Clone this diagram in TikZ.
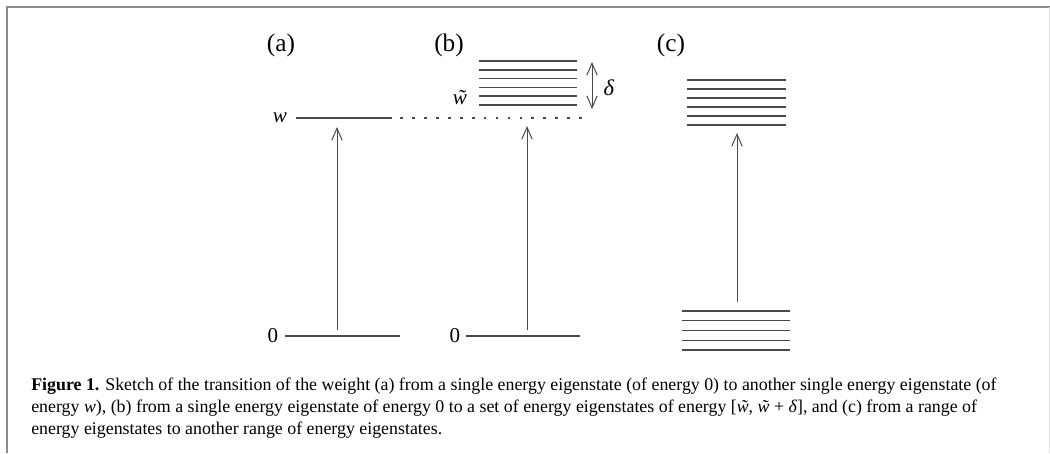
\documentclass[tikz,border=0pt]{standalone}
\usepackage{fontspec}
\setmainfont{Liberation Serif}
\usetikzlibrary{arrows.meta,positioning}
\definecolor{FrameGray}{HTML}{8C8C8C}
\definecolor{LevelInk}{HTML}{4A4A4A}
\newcommand{\wtil}{{\itshape\ooalign{w\cr\hidewidth\kern0.12em\char"02DC\hidewidth\cr}}}

\begin{document}
\begin{tikzpicture}[x=0.025cm, y=-0.025cm,
  level/.style={draw=LevelInk, line width=1pt},
  arr/.style={draw=LevelInk, line width=0.7pt, -{Straight Barb[length=3mm,width=2.6mm]}},
  twoarr/.style={arr, {Straight Barb[length=3mm,width=2.6mm]}-{Straight Barb[length=3mm,width=2.6mm]}},
  panel/.style={font=\fontsize{18}{20}\selectfont, inner sep=0pt},
  lab/.style={font=\fontsize{15}{17}\selectfont, inner sep=0pt}]
  \useasboundingbox (0,0) rectangle (1050,453);
  \draw[FrameGray, line width=1.4pt] (1050,7) -- (7,7) -- (7,453);
  \draw[black!12, line width=0.6pt] (1049,7) -- (1049,453);

  \node[panel] (pa) at (281,45) {(a)};
  \node[panel] (pb) at (449,45) {(b)};
  \node[panel] (pc) at (671,45) {(c)};

  % (a) single level to single level
  \node[lab] (wa) at (280,118) {\textit{w}};
  \draw[level] (296,118) -- (392,118);
  \node[lab] (za) at (273,336) {0};
  \draw[level] (285,336) -- (400,336);
  \coordinate (a-bot) at (337,330);
  \coordinate (a-top) at (337,127);
  \draw[arr] (a-bot) -- (a-top);
  \draw[LevelInk, line width=1pt, dash pattern=on 2pt off 6.5pt] (400,118) -- (585,118);

  % (b) single level to a band
  \foreach \y in {61,69.8,...,106}
    \draw[level] (479,\y) -- (577,\y);
  \node[lab] (wb) at (460,100) {\wtil};
  \coordinate (d-top) at (592,62);
  \coordinate (d-bot) at (592,109);
  \draw[twoarr] (d-bot) -- (d-top);
  \node[lab, font=\fontsize{16}{18}\selectfont] (del) at (609,88) {\textit{δ}};
  \node[lab] (zb) at (455,336) {0};
  \draw[level] (466,336) -- (580,336);
  \coordinate (b-bot) at (527,330);
  \coordinate (b-top) at (527,126);
  \draw[arr] (b-bot) -- (b-top);

  % (c) band to band
  \foreach \y in {80,89,...,126}
    \draw[level] (687,\y) -- (786,\y);
  \foreach \y in {311,320.75,...,351}
    \draw[level] (682,\y) -- (790,\y);
  \coordinate (c-bot) at (737,302);
  \coordinate (c-top) at (737,133);
  \draw[arr] (c-bot) -- (c-top);

  \node[anchor=north west, align=left, inner sep=0pt,
        font=\fontsize{12.7}{15.6}\selectfont] (cap) at (31,378)
    {\textbf{Figure 1.} Sketch of the transition of the weight (a) from a single energy eigenstate (of energy 0) to another single energy eigenstate (of\\
     energy \textit{w}), (b) from a single energy eigenstate of energy 0 to a set of energy eigenstates of energy [\wtil, \wtil{} + \textit{δ}], and (c) from a range of\\
     energy eigenstates to another range of energy eigenstates.};
\end{tikzpicture}
\end{document}
